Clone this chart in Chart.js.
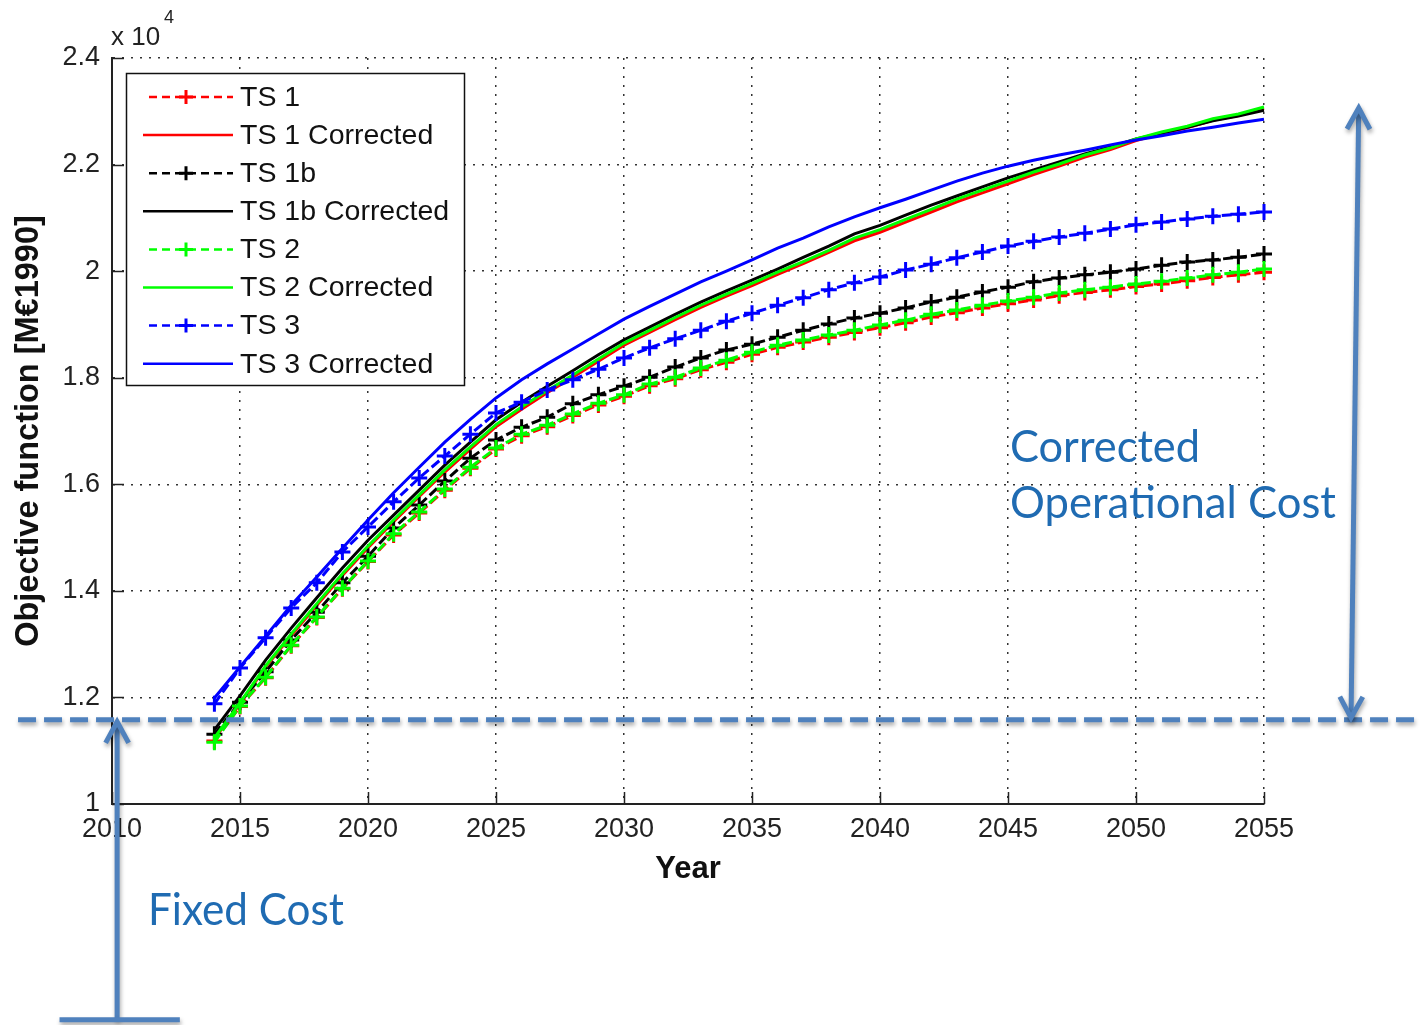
<!DOCTYPE html>
<html>
<head>
<meta charset="utf-8">
<title>Objective function per year</title>
<script src="https://cdn.jsdelivr.net/npm/chart.js@4.4.1/dist/chart.umd.min.js"></script>
<style>
  html, body { margin: 0; padding: 0; background: #fff; }
  #wrap { width: 1422px; height: 1025px; }
</style>
</head>
<body>
<div id="wrap"><canvas id="objChart" width="1422" height="1025"></canvas></div>
<script>
// Objective function (x 10^4 M€1990) per year, plain and corrected runs

const years = [2014, 2015, 2016, 2017, 2018, 2019, 2020, 2021, 2022, 2023, 2024, 2025, 2026, 2027,
  2028, 2029, 2030, 2031, 2032, 2033, 2034, 2035, 2036, 2037, 2038, 2039, 2040, 2041,
  2042, 2043, 2044, 2045, 2046, 2047, 2048, 2049, 2050, 2051, 2052, 2053, 2054, 2055];

const ts1 = [1.118, 1.183, 1.237, 1.297, 1.350, 1.404, 1.455, 1.505, 1.546, 1.589, 1.630, 1.666, 1.691, 1.708,
  1.729, 1.749, 1.765, 1.785, 1.798, 1.815, 1.829, 1.844, 1.857, 1.867, 1.876, 1.885, 1.894, 1.903,
  1.914, 1.922, 1.931, 1.939, 1.946, 1.954, 1.960, 1.965, 1.971, 1.976, 1.982, 1.988, 1.993, 1.998];
const ts1Corrected = [1.122, 1.188, 1.257, 1.316, 1.373, 1.429, 1.481, 1.530, 1.577, 1.623, 1.666, 1.708, 1.741, 1.772,
  1.801, 1.831, 1.861, 1.885, 1.909, 1.932, 1.953, 1.973, 1.994, 2.014, 2.035, 2.057, 2.073, 2.092,
  2.111, 2.130, 2.147, 2.164, 2.181, 2.197, 2.214, 2.228, 2.245, 2.258, 2.269, 2.283, 2.292, 2.305];
const ts1b = [1.131, 1.191, 1.248, 1.308, 1.360, 1.415, 1.465, 1.518, 1.561, 1.606, 1.649, 1.683, 1.707, 1.726,
  1.751, 1.768, 1.784, 1.801, 1.820, 1.837, 1.852, 1.863, 1.876, 1.889, 1.901, 1.912, 1.921, 1.931,
  1.942, 1.951, 1.961, 1.970, 1.980, 1.987, 1.993, 1.998, 2.004, 2.011, 2.017, 2.021, 2.026, 2.032];
const ts1bCorrected = [1.139, 1.203, 1.270, 1.330, 1.387, 1.443, 1.495, 1.542, 1.589, 1.636, 1.679, 1.721, 1.754, 1.784,
  1.813, 1.843, 1.871, 1.895, 1.919, 1.942, 1.963, 1.983, 2.004, 2.026, 2.047, 2.070, 2.086, 2.105,
  2.124, 2.141, 2.158, 2.175, 2.190, 2.205, 2.220, 2.233, 2.248, 2.259, 2.270, 2.282, 2.291, 2.302];
const ts2 = [1.116, 1.184, 1.238, 1.298, 1.351, 1.405, 1.456, 1.507, 1.548, 1.591, 1.632, 1.668, 1.694, 1.711,
  1.732, 1.752, 1.768, 1.788, 1.801, 1.818, 1.833, 1.848, 1.861, 1.871, 1.880, 1.889, 1.899, 1.908,
  1.919, 1.927, 1.936, 1.944, 1.951, 1.959, 1.965, 1.970, 1.976, 1.981, 1.987, 1.993, 1.998, 2.004];
const ts2Corrected = [1.124, 1.190, 1.259, 1.319, 1.376, 1.432, 1.484, 1.533, 1.580, 1.627, 1.670, 1.712, 1.745, 1.776,
  1.805, 1.835, 1.865, 1.889, 1.913, 1.936, 1.957, 1.977, 1.998, 2.018, 2.039, 2.062, 2.078, 2.097,
  2.116, 2.135, 2.152, 2.169, 2.186, 2.201, 2.218, 2.231, 2.248, 2.261, 2.272, 2.286, 2.295, 2.308];
const ts3 = [1.188, 1.255, 1.312, 1.368, 1.415, 1.473, 1.520, 1.567, 1.612, 1.653, 1.694, 1.734, 1.754, 1.777,
  1.796, 1.816, 1.837, 1.856, 1.873, 1.889, 1.906, 1.921, 1.936, 1.950, 1.965, 1.978, 1.989, 2.002,
  2.013, 2.025, 2.036, 2.047, 2.056, 2.064, 2.071, 2.079, 2.087, 2.092, 2.098, 2.103, 2.107, 2.111];
const ts3Corrected = [1.199, 1.257, 1.315, 1.373, 1.426, 1.480, 1.533, 1.584, 1.632, 1.679, 1.722, 1.762, 1.796, 1.826,
  1.854, 1.882, 1.910, 1.934, 1.957, 1.980, 2.000, 2.021, 2.043, 2.062, 2.083, 2.102, 2.119, 2.135,
  2.152, 2.169, 2.184, 2.197, 2.208, 2.218, 2.227, 2.237, 2.246, 2.254, 2.263, 2.270, 2.278, 2.285];

const seriesLabels = ['TS 1', 'TS 1 Corrected', 'TS 1b', 'TS 1b Corrected', 'TS 2', 'TS 2 Corrected', 'TS 3', 'TS 3 Corrected'];
const seriesValues = [ts1, ts1Corrected, ts1b, ts1bCorrected, ts2, ts2Corrected, ts3, ts3Corrected];
const seriesColors = ['#ff0000', '#ff0000', '#000000', '#000000', '#00ff00', '#00ff00', '#0000ff', '#0000ff'];

// Cost levels used by the overlay arrows
const fixedCostLevel = 1.158;
const topCostLevel = 2.306;

const FONT = '"Liberation Sans", Arial, sans-serif';
const NOTE_FONT = 'Lato, "Open Sans", sans-serif';
const NOTE_BLUE = '#4f81bd';
const NOTE_TEXT = '#1f6bb2';

// Build one dataset per run; dashed runs carry '+' markers
const datasets = seriesValues.map((vals, i) => {
  const dashed = i % 2 === 0;
  return {
    label: seriesLabels[i],
    data: years.map((yr, k) => ({ x: yr, y: vals[k] })),
    borderColor: seriesColors[i],
    backgroundColor: seriesColors[i],
    borderWidth: 3,
    borderDash: dashed ? [10, 4] : [],
    pointStyle: dashed ? 'cross' : false,
    pointRadius: dashed ? 8 : 0,
    pointBorderWidth: 3,
    tension: 0,
    clip: false,
    order: seriesValues.length - i
  };
});

// Legend box drawn inside the axes, line samples with markers
const boxLegend = {
  id: 'boxLegend',
  afterDatasetsDraw(chart) {
    const { ctx } = chart;
    const left = 126, top = 73, w = 338, h = 312, step = 38.1;
    ctx.save();
    ctx.fillStyle = '#fff';
    ctx.fillRect(left, top, w, h);
    ctx.strokeStyle = '#111';
    ctx.lineWidth = 1.5;
    ctx.strokeRect(left + 0.5, top + 0.5, w, h);
    chart.data.datasets.forEach((ds, i) => {
      const cy = top + 24 + i * step;
      ctx.strokeStyle = ds.borderColor;
      ctx.lineWidth = 2.5;
      ctx.setLineDash(ds.borderDash.length ? [8, 5] : []);
      ctx.beginPath();
      ctx.moveTo(ds.borderDash.length ? 149 : 143, cy);
      ctx.lineTo(233, cy);
      ctx.stroke();
      ctx.setLineDash([]);
      if (ds.pointStyle === 'cross') {
        ctx.lineWidth = 3;
        ctx.beginPath();
        ctx.moveTo(186 - 7, cy); ctx.lineTo(186 + 7, cy);
        ctx.moveTo(186, cy - 7); ctx.lineTo(186, cy + 7);
        ctx.stroke();
      }
      ctx.fillStyle = '#111';
      ctx.font = '28.5px ' + FONT;
      ctx.textBaseline = 'middle';
      ctx.textAlign = 'left';
      ctx.fillText(ds.label, 240, cy + 1);
    });
    ctx.restore();
  }
};

// Inward tick marks and the x 10^4 multiplier
const matlabAxes = {
  id: 'matlabAxes',
  afterDraw(chart) {
    const { ctx, chartArea: a, scales: { x, y } } = chart;
    ctx.save();
    ctx.strokeStyle = '#222';
    ctx.lineWidth = 1.5;
    y.ticks.forEach(t => {
      const py = Math.round(y.getPixelForValue(t.value)) + 0.5;
      ctx.beginPath(); ctx.moveTo(a.left, py); ctx.lineTo(a.left + 12, py); ctx.stroke();
    });
    x.ticks.forEach(t => {
      const px = Math.round(x.getPixelForValue(t.value)) + 0.5;
      ctx.beginPath(); ctx.moveTo(px, a.bottom); ctx.lineTo(px, a.bottom - 12); ctx.stroke();
    });
    ctx.fillStyle = '#222';
    ctx.textBaseline = 'alphabetic';
    ctx.textAlign = 'left';
    ctx.font = '26px ' + FONT;
    ctx.fillText('x 10', a.left - 1, a.top - 13);
    ctx.font = '18px ' + FONT;
    ctx.fillText('4', a.left + 52, a.top - 35);
    ctx.restore();
  }
};

function openArrowHead(ctx, fx, fy, tx, ty, len, spread) {
  const ang = Math.atan2(ty - fy, tx - fx);
  ctx.beginPath();
  ctx.moveTo(tx - len * Math.cos(ang - spread), ty - len * Math.sin(ang - spread));
  ctx.lineTo(tx, ty);
  ctx.lineTo(tx - len * Math.cos(ang + spread), ty - len * Math.sin(ang + spread));
  ctx.stroke();
}

// Fixed cost line, arrows and notes on top of the plot
const costNotes = {
  id: 'costNotes',
  afterDraw(chart) {
    const { ctx, scales: { x, y } } = chart;
    const fy = y.getPixelForValue(fixedCostLevel);
    ctx.save();
    ctx.shadowColor = 'rgba(0,0,0,0.35)';
    ctx.shadowBlur = 4;
    ctx.shadowOffsetX = 1;
    ctx.shadowOffsetY = 3;
    ctx.strokeStyle = NOTE_BLUE;
    ctx.lineWidth = 5;

    // dashed fixed cost level
    ctx.setLineDash([18, 8]);
    ctx.beginPath();
    ctx.moveTo(x.getPixelForValue(2006.33), fy);
    ctx.lineTo(chart.width, fy);
    ctx.stroke();
    ctx.setLineDash([]);

    // fixed cost arrow with base bar
    const lx = x.getPixelForValue(2010.2);
    const ly = y.getPixelForValue(0.595);
    ctx.beginPath();
    ctx.moveTo(lx, ly);
    ctx.lineTo(lx, fy + 2);
    ctx.stroke();
    openArrowHead(ctx, lx, ly, lx, fy + 2, 24, 0.5);
    ctx.beginPath();
    ctx.moveTo(x.getPixelForValue(2007.95), ly);
    ctx.lineTo(x.getPixelForValue(2012.65), ly);
    ctx.stroke();

    // double arrow for the operational part
    const tx = x.getPixelForValue(2058.7), ty = y.getPixelForValue(topCostLevel);
    const bx = x.getPixelForValue(2058.4), by = fy - 2;
    ctx.beginPath();
    ctx.moveTo(tx, ty);
    ctx.lineTo(bx, by);
    ctx.stroke();
    openArrowHead(ctx, bx, by, tx, ty, 24, 0.5);
    openArrowHead(ctx, tx, ty, bx, by, 24, 0.5);

    // notes
    ctx.shadowColor = 'transparent';
    ctx.fillStyle = NOTE_TEXT;
    ctx.font = '44px ' + NOTE_FONT;
    ctx.textAlign = 'left';
    ctx.textBaseline = 'alphabetic';
    ctx.fillText('Corrected', 1010, 462, 190);
    ctx.fillText('Operational Cost', 1010, 518, 326);
    ctx.fillText('Fixed Cost', 148, 925, 196);
    ctx.restore();
  }
};

new Chart(document.getElementById('objChart'), {
  type: 'line',
  data: { datasets },
  options: {
    responsive: false,
    devicePixelRatio: 1,
    animation: false,
    layout: { padding: { top: 58, right: 158, left: 0, bottom: 0 } },
    plugins: { legend: { display: false }, tooltip: { enabled: false } },
    scales: {
      x: {
        type: 'linear',
        min: 2010,
        max: 2055,
        afterFit: s => { s.height = 221; },
        ticks: {
          stepSize: 5,
          color: '#222',
          padding: 9,
          font: { family: FONT, size: 27 },
          callback: v => String(v)
        },
        grid: { color: '#333', lineWidth: 1.5, drawTicks: false },
        border: { color: '#222', width: 2, dash: [2, 7] },
        title: {
          display: true,
          text: 'Year',
          color: '#111',
          font: { family: FONT, size: 31, weight: 'bold' },
          padding: { bottom: 137 }
        }
      },
      y: {
        min: 1,
        max: 2.4,
        afterFit: s => { s.width = 112; },
        ticks: {
          stepSize: 0.2,
          color: '#222',
          padding: 12,
          font: { family: FONT, size: 27 },
          callback: v => String(Math.round(v * 10) / 10)
        },
        grid: { color: '#333', lineWidth: 1.5, drawTicks: false },
        border: { color: '#222', width: 2, dash: [2, 7] },
        title: {
          display: true,
          text: 'Objective function [M€1990]',
          color: '#111',
          font: { family: FONT, size: 32.5, weight: 'bold' },
          padding: { top: 10 }
        }
      }
    }
  },
  plugins: [boxLegend, matlabAxes, costNotes]
});
</script>
</body>
</html>
